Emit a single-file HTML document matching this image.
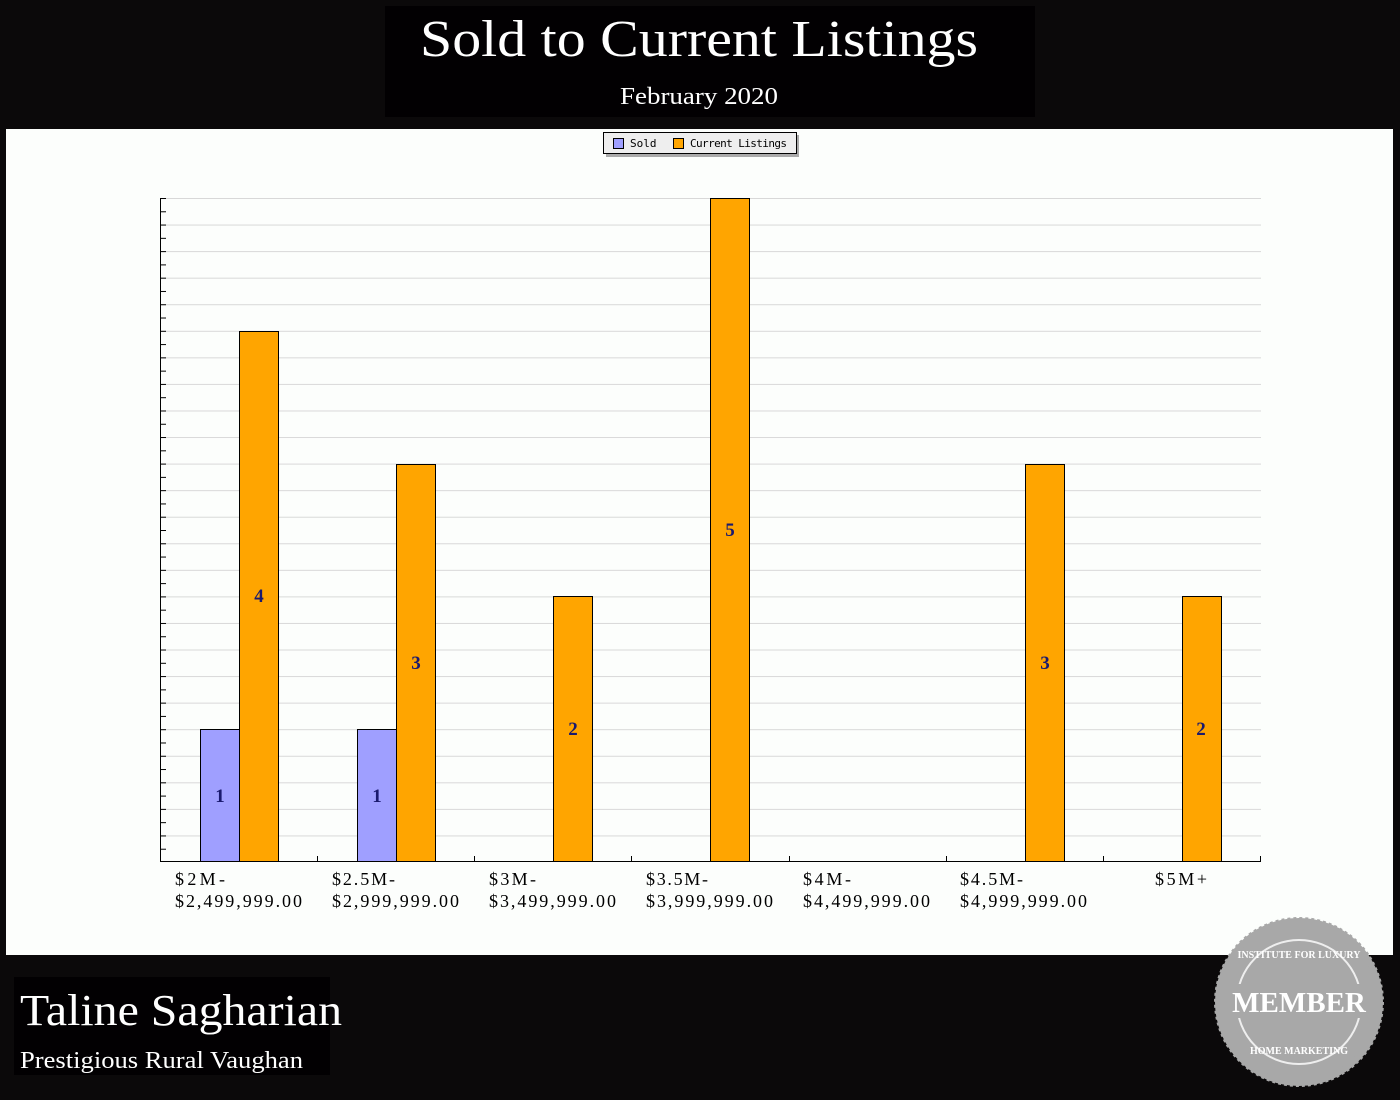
<!DOCTYPE html>
<html><head><meta charset="utf-8"><style>
body{margin:0;width:1400px;height:1100px;background:#0b090a;overflow:hidden}
svg{display:block}
</style></head><body>
<svg width="1400" height="1100" xmlns="http://www.w3.org/2000/svg" font-family="'Liberation Serif',serif">
<defs>
<pattern id="g" x="0" y="198" width="1400" height="26.56" patternUnits="userSpaceOnUse">
<line x1="0" y1="0.5" x2="1400" y2="0.5" stroke="#d8d8d8" stroke-width="1"/>
</pattern>
<pattern id="t" x="0" y="198" width="10" height="13.28" patternUnits="userSpaceOnUse">
<line x1="0" y1="0.5" x2="10" y2="0.5" stroke="#000" stroke-width="1"/>
</pattern>
</defs>
<rect x="0" y="0" width="1400" height="1100" fill="#0b090a"/>
<rect x="385" y="6" width="650" height="111" fill="#020002"/>
<text x="420" y="56" fill="#fff" font-size="52" textLength="558" lengthAdjust="spacingAndGlyphs">Sold to Current Listings</text>
<text x="620" y="104" fill="#fff" font-size="24" textLength="158" lengthAdjust="spacingAndGlyphs">February 2020</text>
<rect x="6" y="129" width="1387" height="826" fill="#fcfefc"/>
<rect x="606" y="135" width="193" height="22" fill="#aaa"/>
<rect x="603.5" y="132.5" width="193" height="21" fill="#eee" stroke="#000"/>
<rect x="613.5" y="138.5" width="10" height="10" fill="#9f9fff" stroke="#000"/>
<text x="630" y="147" font-family="'DejaVu Sans Mono',monospace" font-size="11">Sold</text>
<rect x="673.5" y="138.5" width="10" height="10" fill="#ffa500" stroke="#000"/>
<text x="690" y="147" font-family="'DejaVu Sans Mono',monospace" font-size="11" textLength="97">Current Listings</text>
<rect x="161" y="198" width="1100" height="664" fill="url(#g)"/>
<rect x="161" y="198" width="5" height="664" fill="url(#t)"/>
<g stroke="#000" stroke-width="1">
<rect x="200.5" y="729.5" width="39" height="132" fill="#9f9fff"/>
<rect x="239.5" y="331.5" width="39" height="530" fill="#ffa500"/>
<rect x="357.5" y="729.5" width="39" height="132" fill="#9f9fff"/>
<rect x="396.5" y="464.5" width="39" height="397" fill="#ffa500"/>
<rect x="553.5" y="596.5" width="39" height="265" fill="#ffa500"/>
<rect x="710.5" y="198.5" width="39" height="663" fill="#ffa500"/>
<rect x="1025.5" y="464.5" width="39" height="397" fill="#ffa500"/>
<rect x="1182.5" y="596.5" width="39" height="265" fill="#ffa500"/>
<line x1="160.5" y1="198" x2="160.5" y2="862"/>
<line x1="160" y1="861.5" x2="1261" y2="861.5"/>
<line x1="317.5" y1="856" x2="317.5" y2="862"/>
<line x1="474.5" y1="856" x2="474.5" y2="862"/>
<line x1="631.5" y1="856" x2="631.5" y2="862"/>
<line x1="789.5" y1="856" x2="789.5" y2="862"/>
<line x1="946.5" y1="856" x2="946.5" y2="862"/>
<line x1="1103.5" y1="856" x2="1103.5" y2="862"/>
<line x1="1260.5" y1="856" x2="1260.5" y2="862"/>
</g>
<g fill="#1a1a6e" font-weight="bold" font-size="19" text-anchor="middle">
<text x="220" y="802">1</text><text x="259" y="602">4</text>
<text x="377" y="802">1</text><text x="416" y="669">3</text>
<text x="573" y="735">2</text><text x="730" y="536">5</text>
<text x="1045" y="669">3</text><text x="1201" y="735">2</text>
</g>
<g fill="#000" font-size="18" lengthAdjust="spacingAndGlyphs">
<text x="175" y="885" textLength="50">$2M-</text><text x="175" y="907" textLength="127">$2,499,999.00</text>
<text x="332" y="885" textLength="63">$2.5M-</text><text x="332" y="907" textLength="127">$2,999,999.00</text>
<text x="489" y="885" textLength="47">$3M-</text><text x="489" y="907" textLength="127">$3,499,999.00</text>
<text x="646" y="885" textLength="62">$3.5M-</text><text x="646" y="907" textLength="127">$3,999,999.00</text>
<text x="803" y="885" textLength="48">$4M-</text><text x="803" y="907" textLength="127">$4,499,999.00</text>
<text x="960" y="885" textLength="63">$4.5M-</text><text x="960" y="907" textLength="127">$4,999,999.00</text>
<text x="1155" y="885" textLength="52">$5M+</text>
</g>
<rect x="14" y="977" width="316" height="98" fill="#020002"/>
<text x="20" y="1025" fill="#fff" font-size="44" textLength="322" lengthAdjust="spacingAndGlyphs">Taline Sagharian</text>
<text x="20" y="1068" fill="#fff" font-size="24" textLength="283" lengthAdjust="spacingAndGlyphs">Prestigious Rural Vaughan</text>
<g transform="translate(1299,1002)">
<circle r="84" fill="#a8a8a8" stroke="#a8a8a8" stroke-width="2" stroke-dasharray="3 3"/>
<circle r="78" fill="#a8a8a8"/>
<circle r="62" fill="none" stroke="#eee" stroke-width="2"/>
<rect x="-70" y="-18" width="140" height="34" fill="#a8a8a8"/>
<text x="0" y="10" text-anchor="middle" fill="#fff" font-size="29" font-weight="bold">MEMBER</text>
<text x="0" y="-44" text-anchor="middle" fill="#fff" font-size="10" font-weight="bold">INSTITUTE FOR LUXURY</text>
<text x="0" y="52" text-anchor="middle" fill="#fff" font-size="10" font-weight="bold">HOME MARKETING</text>
</g>
</svg>
</body></html>
